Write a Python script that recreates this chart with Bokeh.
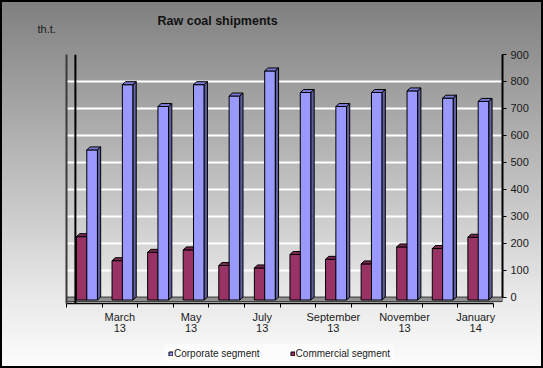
from bokeh.plotting import figure
from bokeh.layouts import column
from bokeh.models import (LinearAxis, FixedTicker, Range1d, Legend, LegendItem,
                          Title, BoxAnnotation, Span, ColumnDataSource)
from bokeh.embed import file_html
from bokeh.resources import INLINE

# ---- data -------------------------------------------------------------
months = ["February 13", "March 13", "April 13", "May 13", "June 13", "July 13",
          "August 13", "September 13", "October 13", "November 13",
          "December 13", "January 14"]
corporate = [557, 799, 718, 799, 757, 850, 770, 718, 770, 776, 749, 737]
commercial = [235, 146, 177, 186, 128, 119, 169, 151, 134, 197, 191, 233]
value_ticks = [0, 100, 200, 300, 400, 500, 600, 700, 800, 900]
series_names = ["Corporate segment", "Commercial segment"]

# ---- styling constants --------------------------------------------------
CORP = "#9999ff"; CORP_TOP = "#7b7bd6"; CORP_SIDE = "#5f5f9c"
COMM = "#993366"; COMM_TOP = "#7a2850"; COMM_SIDE = "#5c1f3d"
BAR_W = 0.30          # bar width in category units
DX, DY = 0.09, 11     # 3-D depth offset (category units, value units)
COMM_OFF, CORP_OFF = 0.43, 0.72
FONT = "Liberation Sans"

n = len(months)
idx = list(range(n))

p = figure(width=543, height=340, output_backend="svg", toolbar_location=None,
           x_range=Range1d(0, 12 * 436 / 427), y_range=Range1d(-24, 900),
           min_border_left=66, min_border_right=41, min_border_top=53,
           min_border_bottom=37, title=None)
p.xaxis.visible = False
p.yaxis.visible = False
p.border_fill_alpha = 0
p.background_fill_alpha = 0
p.outline_line_color = None

# grid (white lines on back wall)
p.xgrid.visible = False
p.ygrid.ticker = FixedTicker(ticks=value_ticks)
p.ygrid.grid_line_color = "white"
p.ygrid.grid_line_width = 2

# floor
p.add_layout(BoxAnnotation(top=0, bottom=-17, fill_color="#8f8f8f", fill_alpha=1,
                           line_color="#333333", line_alpha=1, line_width=1,
                           level="underlay"))
# back-wall left edge
p.add_layout(Span(location=0.25, dimension="height", line_color="black", line_width=2))

def bars(fig, vals, off, front, top, side):
    x0 = [i + off - BAR_W / 2 for i in idx]
    x1 = [i + off + BAR_W / 2 for i in idx]
    src = ColumnDataSource(dict(x=[i + off for i in idx], top=[v - DY for v in vals],
                                bottom=[-DY] * n))
    r = fig.vbar(x="x", top="top", bottom="bottom", width=BAR_W, source=src,
                 fill_color=front, line_color="black", line_width=1)
    top_xs = [[a, b, b + DX, a + DX] for a, b in zip(x0, x1)]
    top_ys = [[v - DY, v - DY, v, v] for v in vals]
    fig.patches(top_xs, top_ys, fill_color=top, line_color="black", line_width=1)
    side_xs = [[b, b + DX, b + DX, b] for b in x1]
    side_ys = [[-DY, 0, v, v - DY] for v in vals]
    fig.patches(side_xs, side_ys, fill_color=side, line_color="black", line_width=1)
    return r

bars(p, commercial, COMM_OFF, COMM, COMM_TOP, COMM_SIDE)
bars(p, corporate, CORP_OFF, CORP, CORP_TOP, CORP_SIDE)

# bottom (category) axis
label_pos = [i + 0.5 for i in idx if i % 2 == 1]
xa = LinearAxis(ticker=FixedTicker(ticks=label_pos, minor_ticks=[float(i) for i in range(n + 1)]),
                bounds=(0, n))
xa.major_label_overrides = {i + 0.5: months[i].replace(" ", "\n") for i in idx if i % 2 == 1}
xa.major_tick_out = 0; xa.major_tick_in = 0
xa.minor_tick_out = 4; xa.minor_tick_in = 0
xa.minor_tick_line_color = "black"
xa.axis_line_color = "black"; xa.axis_line_width = 1.5
xa.major_label_text_font = FONT
xa.major_label_text_font_size = "11px"
xa.major_label_text_color = "#1a1a1a"
xa.major_label_standoff = 3
xa.major_label_text_line_height = 0.95
p.add_layout(xa, "below")

# right (value) axis
ya = LinearAxis(ticker=FixedTicker(ticks=value_ticks), bounds=(0, 900))
ya.axis_line_color = "black"; ya.axis_line_width = 2
ya.major_tick_out = 4; ya.major_tick_in = 0
ya.major_tick_line_color = "black"
ya.minor_tick_line_color = None
ya.major_label_text_font = FONT
ya.major_label_text_font_size = "11px"
ya.major_label_text_color = "#1a1a1a"
ya.major_label_standoff = 4
p.add_layout(ya, "right")

# left side wall edge (line only)
la = LinearAxis(ticker=FixedTicker(ticks=[]))
la.axis_line_color = "#3a3a3a"; la.axis_line_width = 2
la.major_tick_line_color = None
la.minor_tick_line_color = None
p.add_layout(la, "left")

# titles
p.add_layout(Title(text="th.t.", align="left", offset=-29, text_font=FONT,
                   text_font_size="11px", text_font_style="normal",
                   text_color="#1a1a1a", standoff=40), "above")
p.add_layout(Title(text="Raw coal shipments", align="left", offset=91, text_font=FONT,
                   text_font_size="12.5px", text_font_style="bold",
                   text_color="#111111", standoff=-54), "above")

# ---- legend strip (separate small figure below the chart) ------------------
# same series drawn off-range, only so that the legend gets its swatches
lg = figure(width=543, height=28, output_backend="svg", toolbar_location=None,
            x_range=Range1d(100, 101), y_range=Range1d(5000, 5001), min_border=0, title=None)
lg.axis.visible = False
lg.grid.visible = False
lg.border_fill_alpha = 0
lg.background_fill_alpha = 0
lg.outline_line_color = None
k_corp = lg.vbar(x=idx, top=corporate, width=BAR_W, fill_color=CORP,
                 line_color="black", line_width=1)
k_comm = lg.vbar(x=idx, top=commercial, width=BAR_W, fill_color=COMM,
                 line_color="black", line_width=1)
legend = Legend(items=[LegendItem(label=series_names[0], renderers=[k_corp]),
                       LegendItem(label=series_names[1], renderers=[k_comm])],
                orientation="horizontal", location=(98, 5),
                label_text_font=FONT, label_text_font_size="10px",
                label_text_color="#1a1a1a", glyph_width=5, glyph_height=5,
                label_standoff=1, spacing=30, padding=4, margin=0,
                label_height=10,
                background_fill_color="white", background_fill_alpha=0.5,
                border_line_alpha=0)
lg.add_layout(legend, "center")

page = column(p, lg, spacing=0)
page.styles = {"background": "linear-gradient(#7f7f7f 0%, #a0a0a0 25%, #e8e8e8 80%, #fdfdfd 100%)",
               "outline": "2px solid #000", "outline-offset": "-2px"}

open("out.html", "w").write(file_html(page, INLINE))
